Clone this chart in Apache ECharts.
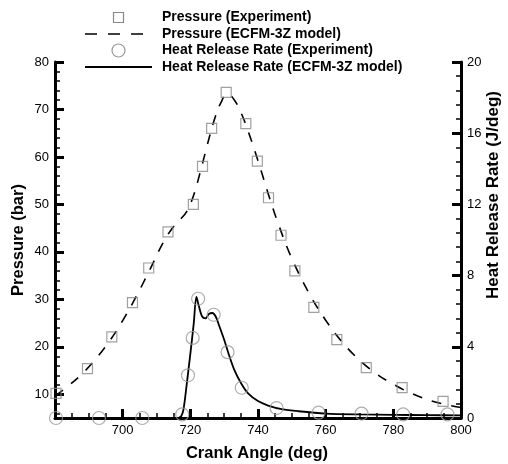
<!DOCTYPE html>
<html>
<head>
<meta charset="utf-8">
<script src="https://cdn.jsdelivr.net/npm/echarts@6/dist/echarts.min.js"></script>
<style>html,body{margin:0;padding:0;background:#fff}#c{width:508px;height:464px}</style>
</head>
<body>
<div id="c"></div>
<script>
// ---- data ----
var pressureExpAngle = [680.3, 689.6, 696.8, 702.9, 707.7, 713.4, 720.9, 723.6, 726.3, 730.6, 736.4, 739.8, 743.1, 746.8, 750.9, 756.5, 763.3, 772.0, 782.6, 794.7];
var pressureExpValue = [10.2, 15.4, 22.1, 29.3, 36.6, 44.2, 50.0, 58.0, 66.0, 73.6, 67.0, 59.1, 51.4, 43.5, 36.0, 28.3, 21.5, 15.6, 11.4, 8.5];

var pressureModelAngle = [680, 684, 688, 692, 696, 700, 704, 708, 712, 715, 717, 719, 721, 723, 725, 727, 729, 731, 733, 735, 737, 740, 743, 746, 750, 755, 760, 765, 770, 775, 780, 785, 790, 795, 800];
var pressureModelValue = [9.6, 11.8, 14.3, 17.4, 21.1, 25.5, 30.6, 36.2, 42.0, 45.3, 46.8, 48.6, 52.0, 57.0, 62.5, 67.6, 71.4, 73.3, 72.0, 69.3, 65.6, 59.2, 52.3, 45.9, 38.6, 31.4, 25.6, 20.9, 17.2, 14.3, 12.1, 10.3, 8.9, 7.9, 7.2];

var hrrExpAngle = [680.3, 693.0, 705.8, 717.6, 719.3, 720.7, 722.3, 726.9, 731.0, 735.2, 745.5, 757.9, 770.6, 782.9, 796.0];
var hrrExpValue = [0.0, 0.0, 0.0, 0.2, 2.4, 4.5, 6.7, 5.8, 3.7, 1.7, 0.56, 0.3, 0.25, 0.2, 0.2];

var hrrModelAngle = [716.5, 717.3, 718, 719, 720, 721, 721.8, 722.5, 723.5, 724.5, 725.5, 726.5, 727.5, 728.5, 730, 731.5, 733, 735, 737, 740, 743, 747, 752, 760, 770, 780, 790, 800];
var hrrModelValue = [0.0, 0.1, 0.5, 2.0, 3.6, 5.3, 6.8, 6.3, 5.7, 5.6, 5.85, 5.9, 5.7, 5.2, 4.4, 3.5, 2.7, 1.95, 1.4, 0.95, 0.7, 0.5, 0.38, 0.25, 0.2, 0.18, 0.16, 0.15];

var xTickLabels = [700, 720, 740, 760, 780, 800];
var pressureTicks = [10, 20, 30, 40, 50, 60, 70, 80];
var pressureMinorTicks = [6, 8, 12, 14, 16, 18, 22, 24, 26, 28, 32, 34, 36, 38, 42, 44, 46, 48, 52, 54, 56, 58, 62, 64, 66, 68, 72, 74, 76, 78];
var hrrTicks = [0, 4, 8, 12, 16, 20];

var legendNames = ['Pressure (Experiment)', 'Pressure (ECFM-3Z model)', 'Heat Release Rate (Experiment)', 'Heat Release Rate (ECFM-3Z model)'];
var xTitle = 'Crank Angle (deg)';
var yLeftTitle = 'Pressure (bar)';
var yRightTitle = 'Heat Release Rate (J/deg)';

function zip(a, b) { return a.map(function (v, i) { return [v, b[i]]; }); }

var FONT = 'Liberation Sans, Arial, sans-serif';
var chart = echarts.init(document.getElementById('c'), null, { renderer: 'canvas' });

var lgX = 162, lgY = [17.5, 34, 50.5, 67];
var graphics = [
  { type: 'rect', shape: { x: 113.5, y: 12.5, width: 10, height: 10 }, style: { fill: 'none', stroke: '#888', lineWidth: 1.2 } },
  { type: 'line', shape: { x1: 85, y1: 34, x2: 145, y2: 34 }, style: { stroke: '#000', lineWidth: 1.6, lineDash: [12, 11] } },
  { type: 'circle', shape: { cx: 118.5, cy: 50.5, r: 6.5 }, style: { fill: 'none', stroke: '#999', lineWidth: 1.2 } },
  { type: 'line', shape: { x1: 85, y1: 67, x2: 152, y2: 67 }, style: { stroke: '#000', lineWidth: 1.8 } },
  { type: 'text', x: 257, y: 453, style: { text: xTitle, font: 'bold 16.5px ' + FONT, fill: '#000', align: 'center', verticalAlign: 'middle' } },
  { type: 'text', x: 18, y: 240, rotation: Math.PI / 2, style: { text: yLeftTitle, font: 'bold 16.5px ' + FONT, fill: '#000', align: 'center', verticalAlign: 'middle' } },
  { type: 'text', x: 493, y: 195, rotation: Math.PI / 2, style: { text: yRightTitle, font: 'bold 17px ' + FONT, fill: '#000', align: 'center', verticalAlign: 'middle' } }
];
legendNames.forEach(function (n, i) {
  graphics.push({ type: 'text', x: lgX, y: lgY[i], style: { text: n, font: 'bold 14px ' + FONT, fill: '#000', align: 'left', verticalAlign: 'middle' } });
});

var axisLineStyle = { color: '#000', width: 3 };
var labelStyle = { color: '#000', fontSize: 13, fontFamily: FONT };

chart.setOption({
  animation: false,
  backgroundColor: '#fff',
  grid: { left: 55, right: 47, top: 62, bottom: 46, containLabel: false },
  graphic: graphics,
  xAxis: {
    type: 'value', min: 680, max: 800, interval: 20,
    axisLine: { show: true, onZero: false, lineStyle: axisLineStyle },
    axisTick: { show: true, inside: true, length: 9, lineStyle: { color: '#000', width: 3 } },
    minorTick: { show: true, splitNumber: 4, length: 5, lineStyle: { color: '#000', width: 1.5 } },
    axisLabel: Object.assign({ margin: 6, customValues: xTickLabels }, labelStyle),
    splitLine: { show: false }, minorSplitLine: { show: false }
  },
  yAxis: [
    {
      type: 'value', min: 5, max: 80, position: 'left',
      axisLine: { show: true, onZero: false, lineStyle: axisLineStyle },
      axisTick: { show: true, inside: true, length: 9, customValues: pressureTicks, lineStyle: { color: '#000', width: 3 } },
      axisLabel: Object.assign({ margin: 6, customValues: pressureTicks }, labelStyle),
      splitLine: { show: false }
    },
    {
      type: 'value', min: 0, max: 20, interval: 4, position: 'right',
      axisLine: { show: true, onZero: false, lineStyle: axisLineStyle },
      axisTick: { show: true, inside: true, length: 9, lineStyle: { color: '#000', width: 3 } },
      minorTick: { show: true, splitNumber: 5, length: 5, lineStyle: { color: '#000', width: 1.5 } },
      axisLabel: Object.assign({ margin: 6, customValues: hrrTicks }, labelStyle),
      splitLine: { show: false }, minorSplitLine: { show: false }
    },
    {
      type: 'value', min: 5, max: 80, position: 'left',
      axisLine: { show: false },
      axisTick: { show: true, inside: true, length: 5, customValues: pressureMinorTicks, lineStyle: { color: '#000', width: 1.5 } },
      axisLabel: { show: false },
      splitLine: { show: false }
    }
  ],
  series: [
    {
      name: legendNames[1], type: 'line', yAxisIndex: 0, data: zip(pressureModelAngle, pressureModelValue),
      smooth: 0.4, symbol: 'none', lineStyle: { color: '#000', width: 1.6, type: [10, 10] }, z: 2
    },
    {
      name: legendNames[3], type: 'line', yAxisIndex: 1, data: zip(hrrModelAngle, hrrModelValue),
      smooth: 0.3, symbol: 'none', lineStyle: { color: '#000', width: 1.8 }, z: 2
    },
    {
      name: legendNames[0], type: 'scatter', yAxisIndex: 0, data: zip(pressureExpAngle, pressureExpValue),
      symbol: 'rect', symbolSize: 10, clip: false,
      itemStyle: { color: 'rgba(0,0,0,0)', borderColor: '#888', borderWidth: 1.2 }, z: 3
    },
    {
      name: legendNames[2], type: 'scatter', yAxisIndex: 1, data: zip(hrrExpAngle, hrrExpValue),
      symbol: 'circle', symbolSize: 13, clip: false,
      itemStyle: { color: 'rgba(0,0,0,0)', borderColor: '#999', borderWidth: 1.2 }, z: 3
    }
  ]
});
</script>
</body>
</html>
